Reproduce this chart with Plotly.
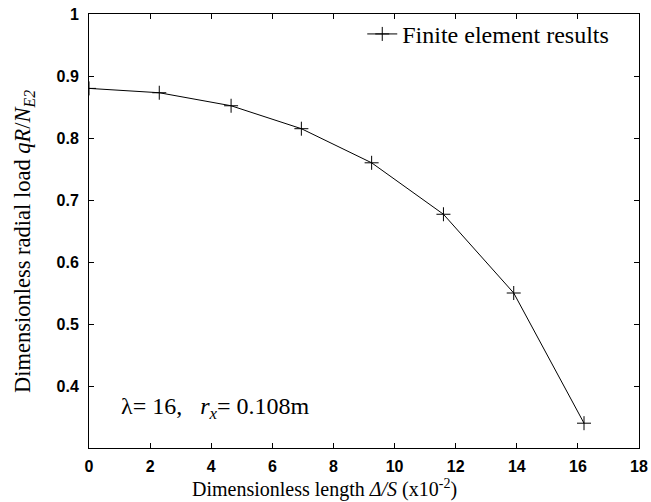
import plotly.graph_objects as go

x_vals = [0, 2.3, 4.65, 6.95, 9.25, 11.6, 13.9, 16.2]
y_vals = [0.88, 0.873, 0.852, 0.815, 0.76, 0.677, 0.55, 0.34]
series_name = "Finite element results"
x_ticks = [0, 2, 4, 6, 8, 10, 12, 14, 16, 18]
y_ticks = [0.4, 0.5, 0.6, 0.7, 0.8, 0.9, 1]
y_tick_text = ["0.4", "0.5", "0.6", "0.7", "0.8", "0.9", "1"]

serif = "Liberation Serif, Times New Roman, serif"
sans = "Liberation Sans, Arial, sans-serif"

L, R, T, B, W, H = 89, 12, 14, 54, 651, 502
pw, ph = W - L - R, H - T - B

fig = go.Figure()
fig.add_trace(go.Scatter(
    x=x_vals, y=y_vals, mode="lines+markers", name=series_name,
    line=dict(color="black", width=1),
    marker=dict(symbol="cross-thin", size=10, line=dict(color="black", width=1), color="black"),
))

axis_common = dict(
    showline=True, linecolor="black", linewidth=1, mirror="ticks",
    ticks="inside", ticklen=5, tickcolor="black", showgrid=False, zeroline=False,
    tickfont=dict(family=sans, size=16, color="black"), automargin=False,
)

fig.update_xaxes(range=[0, 18], tickvals=x_ticks, ticktext=["<b>%d</b>" % t for t in x_ticks],
                 ticklabelstandoff=4, **axis_common)
fig.update_yaxes(range=[0.3, 1], tickvals=y_ticks, ticktext=["<b>%s</b>" % t for t in y_tick_text],
                 ticklabelstandoff=6, **axis_common)

# axis titles (placed by pixel position)
fig.add_annotation(x=(324 - L) / pw, y=(H - 488 - B) / ph, xref="paper", yref="paper", showarrow=False,
                   text="Dimensionless length <i>Δ/S</i> (x10<sup>-2</sup>)",
                   font=dict(family=serif, size=20, color="black"),
                   xanchor="center", yanchor="middle")
fig.add_annotation(x=(24 - L) / pw, y=(H - 242 - B) / ph, xref="paper", yref="paper", showarrow=False,
                   textangle=-90,
                   text="Dimensionless radial load <i>qR</i>/<i>N</i><sub><i>E2</i></sub>",
                   font=dict(family=serif, size=22.5, color="black"),
                   xanchor="center", yanchor="middle")

fig.add_annotation(x=(119 - L) / pw, y=(H - 408 - B) / ph, xref="paper", yref="paper",
                   xanchor="left", yanchor="middle",
                   text="λ= 16,   <i>r<sub>x</sub></i>= 0.108m", showarrow=False,
                   font=dict(family=serif, size=24, color="black"))

fig.update_layout(
    width=W, height=H,
    margin=dict(l=L, r=R, t=T, b=B),
    plot_bgcolor="white", paper_bgcolor="white",
    showlegend=True,
    legend=dict(x=0.955, y=1.005, xanchor="right", yanchor="top", bgcolor="rgba(0,0,0,0)",
                font=dict(family=serif, size=24, color="black")),
)

fig.write_html("out.html", config={"displayModeBar": False},
               post_script="document.body.style.margin='0';")
